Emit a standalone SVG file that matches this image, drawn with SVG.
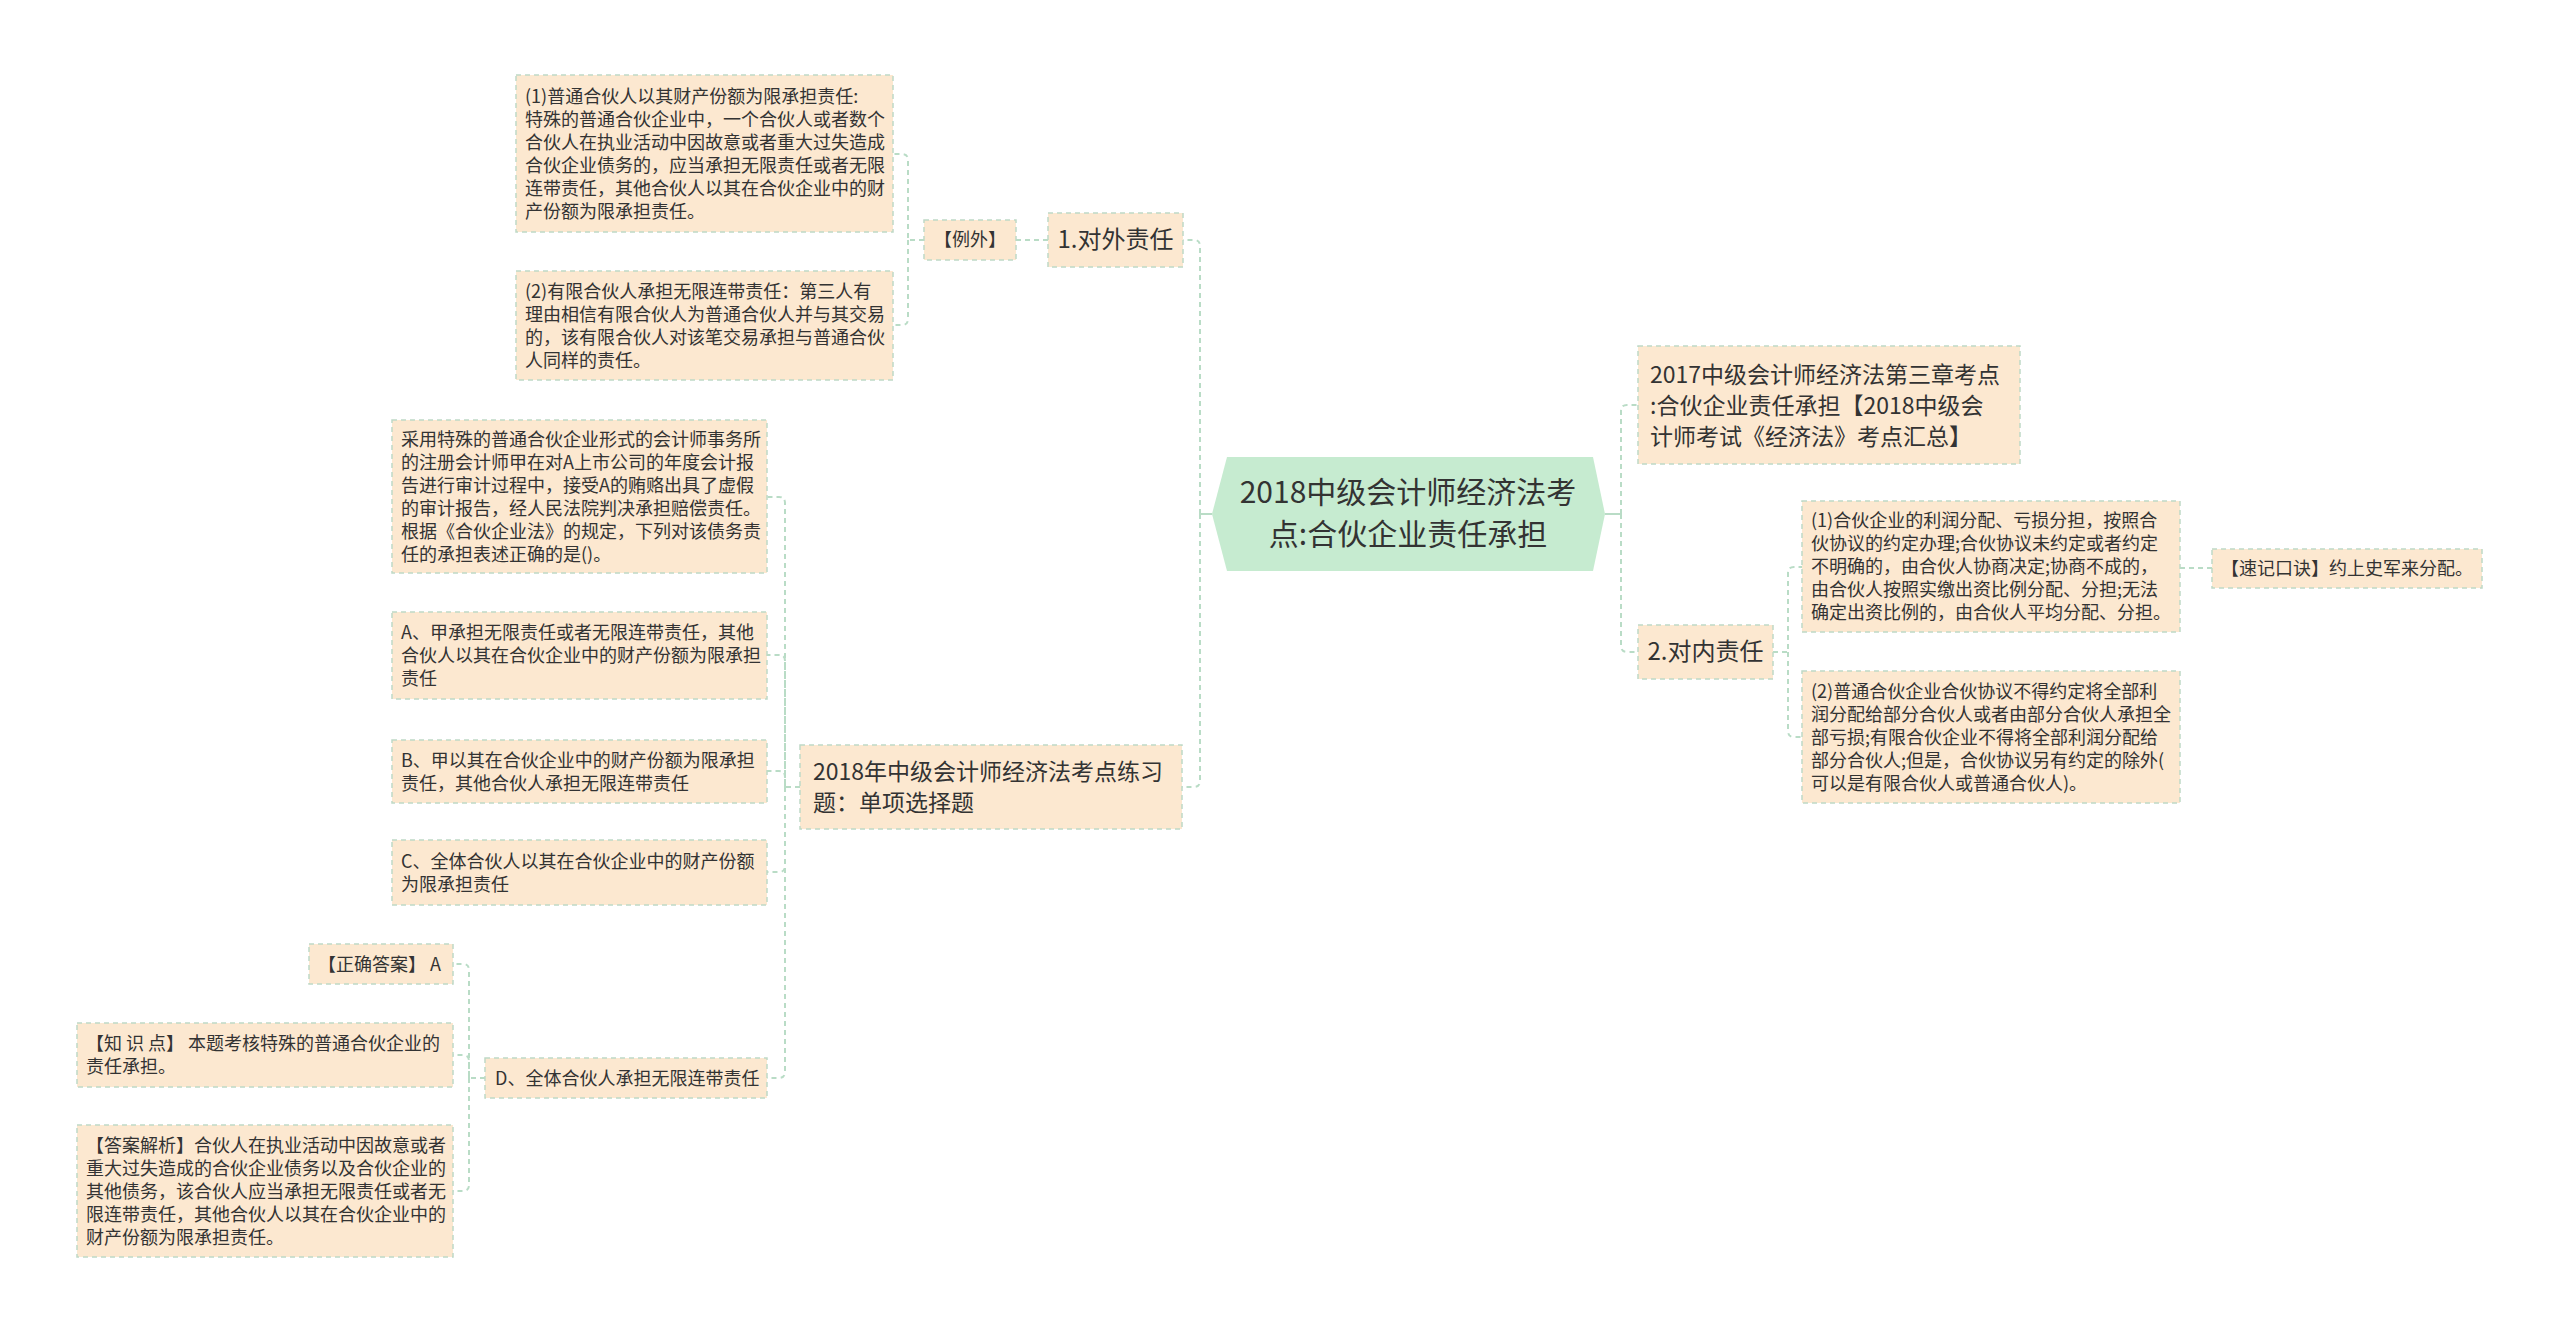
<svg xmlns="http://www.w3.org/2000/svg" width="2560" height="1335" viewBox="0 0 2560 1335">
<style>
.bg{fill:#ffffff}
.box{fill:#fce8d0;stroke:#bfd9c6;stroke-width:1.5;stroke-dasharray:5 4}
.root{fill:#c6ebd0}
.t{font-family:"Noto Sans CJK SC","Noto Sans",sans-serif;fill:#333333}
.s{font-size:18px}
.m{font-size:23px}
.h{font-size:24px}
.l{font-size:30px}
.c{text-anchor:middle}
.ln{fill:none;stroke:#b9dcc6;stroke-width:2;stroke-dasharray:5 4}
.sl{fill:none;stroke:#b9dcc6;stroke-width:2}
</style>
<rect class="bg" x="0" y="0" width="2560" height="1335"/>
<g id="connectors">
<path class="sl" d="M1212,514 H1200"/>
<path class="ln" d="M1200,514 V246 Q1200,240 1194,240 H1183"/>
<path class="ln" d="M1200,514 V781 Q1200,787 1194,787 H1182"/>
<path class="ln" d="M1048,240 H1016"/>
<path class="ln" d="M924,240 H908 V160 Q908,154 902,154 H893"/>
<path class="ln" d="M908,240 V319 Q908,325 902,325 H893"/>
<path class="ln" d="M800,787 H785 V503 Q785,497 779,497 H767"/>
<path class="ln" d="M785,787 V661 Q785,655 779,655 H767"/>
<path class="ln" d="M785,787 V777 Q785,771 779,771 H767"/>
<path class="ln" d="M785,787 V866 Q785,872 779,872 H767"/>
<path class="ln" d="M785,787 V1072 Q785,1078 779,1078 H767"/>
<path class="ln" d="M485,1078 H469 V970 Q469,964 463,964 H453"/>
<path class="ln" d="M469,1078 V1061 Q469,1055 463,1055 H453"/>
<path class="ln" d="M469,1078 V1185 Q469,1191 463,1191 H453"/>
<path class="sl" d="M1605,514 H1621"/>
<path class="ln" d="M1621,514 V411 Q1621,405 1627,405 H1638"/>
<path class="ln" d="M1621,514 V646 Q1621,652 1627,652 H1638"/>
<path class="ln" d="M1773,652 H1788 V573 Q1788,567 1794,567 H1802"/>
<path class="ln" d="M1788,652 V731 Q1788,737 1794,737 H1802"/>
<path class="ln" d="M2180,568 H2212"/>
</g>
<g id="root">
<polygon class="root" points="1227,457 1593,457 1605,514 1593,571 1227,571 1212,514"/>
<text class="t l c" x="1408" y="503">2018中级会计师经济法考</text>
<text class="t l c" x="1408" y="545">点:合伙企业责任承担</text>
</g>
<g id="n-outer">
<rect class="box" x="1048" y="213" width="135" height="54"/>
<text class="t h c" x="1115.5" y="248">1.对外责任</text>
</g>
<g id="n-exception">
<rect class="box" x="924" y="220" width="92" height="40"/>
<text class="t s c" x="970" y="246">【例外】</text>
</g>
<g id="n-p1">
<rect class="box" x="516" y="75" width="377" height="157"/>
<text class="t s" x="525" y="102.5">(1)普通合伙人以其财产份额为限承担责任:</text>
<text class="t s" x="525" y="125.5">特殊的普通合伙企业中，一个合伙人或者数个</text>
<text class="t s" x="525" y="148.5">合伙人在执业活动中因故意或者重大过失造成</text>
<text class="t s" x="525" y="171.5">合伙企业债务的，应当承担无限责任或者无限</text>
<text class="t s" x="525" y="194.5">连带责任，其他合伙人以其在合伙企业中的财</text>
<text class="t s" x="525" y="217.5">产份额为限承担责任。</text>
</g>
<g id="n-p2">
<rect class="box" x="516" y="271" width="377" height="109"/>
<text class="t s" x="525" y="297.5">(2)有限合伙人承担无限连带责任：第三人有</text>
<text class="t s" x="525" y="320.5">理由相信有限合伙人为普通合伙人并与其交易</text>
<text class="t s" x="525" y="343.5">的，该有限合伙人对该笔交易承担与普通合伙</text>
<text class="t s" x="525" y="366.5">人同样的责任。</text>
</g>
<g id="n-practice">
<rect class="box" x="800" y="745" width="382" height="84"/>
<text class="t m" x="813" y="779.5">2018年中级会计师经济法考点练习</text>
<text class="t m" x="813" y="810.5">题：单项选择题</text>
</g>
<g id="n-question">
<rect class="box" x="392" y="420" width="375" height="153"/>
<text class="t s" x="401" y="445.5">采用特殊的普通合伙企业形式的会计师事务所</text>
<text class="t s" x="401" y="468.5">的注册会计师甲在对A上市公司的年度会计报</text>
<text class="t s" x="401" y="491.5">告进行审计过程中，接受A的贿赂出具了虚假</text>
<text class="t s" x="401" y="514.5">的审计报告，经人民法院判决承担赔偿责任。</text>
<text class="t s" x="401" y="537.5">根据《合伙企业法》的规定，下列对该债务责</text>
<text class="t s" x="401" y="560.5">任的承担表述正确的是()。</text>
</g>
<g id="n-a">
<rect class="box" x="392" y="612" width="375" height="87"/>
<text class="t s" x="401" y="639">A、甲承担无限责任或者无限连带责任，其他</text>
<text class="t s" x="401" y="662">合伙人以其在合伙企业中的财产份额为限承担</text>
<text class="t s" x="401" y="685">责任</text>
</g>
<g id="n-b">
<rect class="box" x="392" y="740" width="375" height="63"/>
<text class="t s" x="401" y="766.5">B、甲以其在合伙企业中的财产份额为限承担</text>
<text class="t s" x="401" y="789.5">责任，其他合伙人承担无限连带责任</text>
</g>
<g id="n-c">
<rect class="box" x="392" y="840" width="375" height="65"/>
<text class="t s" x="401" y="867.5">C、全体合伙人以其在合伙企业中的财产份额</text>
<text class="t s" x="401" y="890.5">为限承担责任</text>
</g>
<g id="n-d">
<rect class="box" x="485" y="1058" width="282" height="40"/>
<text class="t s" x="495" y="1084.5">D、全体合伙人承担无限连带责任</text>
</g>
<g id="n-answer">
<rect class="box" x="309" y="944" width="144" height="40"/>
<text class="t s" x="318" y="970.5">【正确答案】 A</text>
</g>
<g id="n-knowledge">
<rect class="box" x="77" y="1023" width="376" height="64"/>
<text class="t s" x="86" y="1050">【知 识 点】 本题考核特殊的普通合伙企业的</text>
<text class="t s" x="86" y="1073">责任承担。</text>
</g>
<g id="n-analysis">
<rect class="box" x="77" y="1125" width="376" height="132"/>
<text class="t s" x="86" y="1151.5">【答案解析】合伙人在执业活动中因故意或者</text>
<text class="t s" x="86" y="1174.5">重大过失造成的合伙企业债务以及合伙企业的</text>
<text class="t s" x="86" y="1197.5">其他债务，该合伙人应当承担无限责任或者无</text>
<text class="t s" x="86" y="1220.5">限连带责任，其他合伙人以其在合伙企业中的</text>
<text class="t s" x="86" y="1243.5">财产份额为限承担责任。</text>
</g>
<g id="n-2017">
<rect class="box" x="1638" y="346" width="382" height="118"/>
<text class="t m" x="1650" y="382.5">2017中级会计师经济法第三章考点</text>
<text class="t m" x="1650" y="413.5">:合伙企业责任承担【2018中级会</text>
<text class="t m" x="1650" y="444.5">计师考试《经济法》考点汇总】</text>
</g>
<g id="n-inner">
<rect class="box" x="1638" y="625" width="135" height="54"/>
<text class="t h c" x="1705.5" y="660">2.对内责任</text>
</g>
<g id="n-r1">
<rect class="box" x="1802" y="501" width="378" height="131"/>
<text class="t s" x="1811" y="527">(1)合伙企业的利润分配、亏损分担，按照合</text>
<text class="t s" x="1811" y="550">伙协议的约定办理;合伙协议未约定或者约定</text>
<text class="t s" x="1811" y="573">不明确的，由合伙人协商决定;协商不成的，</text>
<text class="t s" x="1811" y="596">由合伙人按照实缴出资比例分配、分担;无法</text>
<text class="t s" x="1811" y="619">确定出资比例的，由合伙人平均分配、分担。</text>
</g>
<g id="n-r2">
<rect class="box" x="1802" y="671" width="378" height="132"/>
<text class="t s" x="1811" y="697.5">(2)普通合伙企业合伙协议不得约定将全部利</text>
<text class="t s" x="1811" y="720.5">润分配给部分合伙人或者由部分合伙人承担全</text>
<text class="t s" x="1811" y="743.5">部亏损;有限合伙企业不得将全部利润分配给</text>
<text class="t s" x="1811" y="766.5">部分合伙人;但是，合伙协议另有约定的除外(</text>
<text class="t s" x="1811" y="789.5">可以是有限合伙人或普通合伙人)。</text>
</g>
<g id="n-mnemonic">
<rect class="box" x="2212" y="549" width="270" height="39"/>
<text class="t s" x="2221" y="575">【速记口诀】约上史军来分配。</text>
</g>
</svg>
